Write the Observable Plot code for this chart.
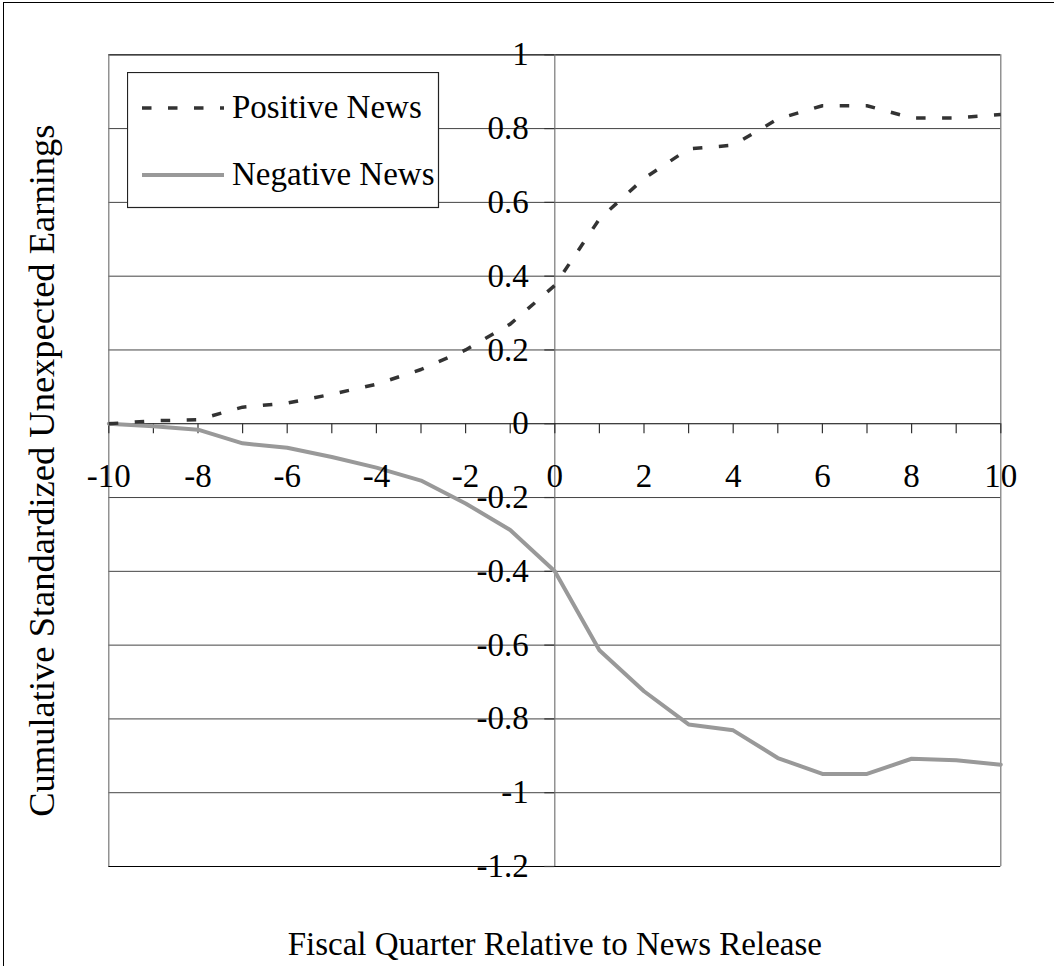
<!DOCTYPE html>
<html>
<head>
<meta charset="utf-8">
<script src="https://cdn.jsdelivr.net/npm/d3@7"></script>
<script src="https://cdn.jsdelivr.net/npm/@observablehq/plot@0.6"></script>
<style>
  html, body { margin: 0; padding: 0; background: #fff; }
  #wrap { position: relative; width: 1054px; height: 966px; overflow: hidden;
          font-family: "Liberation Serif", "Times New Roman", serif; }
  #wrap svg.chart { position: absolute; left: 0; top: 0; }
  #border { position: absolute; left: 3px; top: 2px; width: 1200px; height: 1200px;
            border-left: 1.5px solid #000; border-top: 1.5px solid #000; pointer-events: none; }
  #legend { position: absolute; left: 127px; top: 72px; }
</style>
</head>
<body>
<div id="wrap"></div>
<script>
// ---- data ----
const quarters = [-10, -9, -8, -7, -6, -5, -4, -3, -2, -1, 0, 1, 2, 3, 4, 5, 6, 7, 8, 9, 10];
const positiveNews = [0, 0.008, 0.011, 0.045, 0.056, 0.080, 0.107, 0.147, 0.200, 0.270, 0.375,
                      0.555, 0.665, 0.745, 0.755, 0.826, 0.862, 0.862, 0.829, 0.829, 0.838];
const negativeNews = [0, -0.007, -0.016, -0.053, -0.065, -0.090, -0.119, -0.154, -0.216, -0.288, -0.400,
                      -0.614, -0.725, -0.815, -0.831, -0.906, -0.949, -0.949, -0.908, -0.912, -0.924];
const seriesNames = ["Positive News", "Negative News"];
const xTickValues = [-10, -9, -8, -7, -6, -5, -4, -3, -2, -1, 0, 1, 2, 3, 4, 5, 6, 7, 8, 9, 10];
const xTickLabels = [-10, -8, -6, -4, -2, 0, 2, 4, 6, 8, 10];
const yTickValues = [1, 0.8, 0.6, 0.4, 0.2, 0, -0.2, -0.4, -0.6, -0.8, -1, -1.2];
const gridValues = [0.8, 0.6, 0.4, 0.2, -0.2, -0.4, -0.6, -0.8, -1];
const xTitle = "Fiscal Quarter Relative to News Release";
const yTitle = "Cumulative Standardized Unexpected Earnings";

// ---- layout ----
const W = 1054, H = 966;
const mL = 108.3, mR = 53.7, mT = 54.3, mB = 100;
const xDomain = [-10, 10], yDomain = [-1.2, 1];
const pxPerX = (W - mL - mR) / (xDomain[1] - xDomain[0]);
const pxPerY = (H - mT - mB) / (yDomain[1] - yDomain[0]);
const tickPx = 10;
const FONT = '"Liberation Serif", "Times New Roman", serif';

const rows = quarters.map((q, i) => ({q, pos: positiveNews[i], neg: negativeNews[i]}));

const chart = Plot.plot({
  width: W, height: H,
  marginLeft: mL, marginRight: mR, marginTop: mT, marginBottom: mB,
  x: {domain: xDomain, axis: null},
  y: {domain: yDomain, axis: null},
  style: {fontFamily: FONT, background: "transparent", overflow: "visible"},
  marks: [
    Plot.ruleY(gridValues, {y: d => d, x1: xDomain[0], x2: xDomain[1], stroke: "#444", strokeWidth: 1}),
    Plot.ruleY(yDomain, {y: d => d, x1: xDomain[0], x2: xDomain[1], stroke: "#000", strokeWidth: 1.2}),
    Plot.ruleX(xDomain, {x: d => d, y1: yDomain[0], y2: yDomain[1], stroke: "#777", strokeWidth: 1.2}),
    Plot.ruleX([0], {x: d => d, y1: yDomain[0], y2: yDomain[1], stroke: "#777", strokeWidth: 1.2}),
    Plot.ruleY([0], {y: d => d, x1: xDomain[0], x2: xDomain[1], stroke: "#000", strokeWidth: 1.2}),
    Plot.ruleX(xTickValues, {x: d => d, y1: 0, y2: -tickPx / pxPerY, stroke: "#333", strokeWidth: 1.2}),
    Plot.ruleY(yTickValues, {y: d => d, x1: -tickPx / pxPerX, x2: 0, stroke: "#333", strokeWidth: 1.2}),
    Plot.line(rows, {x: "q", y: "neg", stroke: "#999", strokeWidth: 4, strokeLinejoin: "miter"}),
    Plot.line(rows, {x: "q", y: "pos", stroke: "#333", strokeWidth: 3.5, strokeDasharray: "9.5,16.5", strokeLinecap: "butt"}),
    Plot.text(yTickValues, {x: 0, y: d => d, text: d => String(d), textAnchor: "end", dx: -26,
      fontSize: 33, fontFamily: FONT, fill: "#000"}),
    Plot.text(xTickLabels, {x: d => d, y: 0, text: d => String(d), dy: 53,
      fontSize: 33, fontFamily: FONT, fill: "#000"}),
    Plot.text([xTitle], {frameAnchor: "bottom", text: d => d, textAnchor: "middle", lineAnchor: "middle",
      dy: 78, fontSize: 33, fontFamily: FONT, fill: "#000"}),
    Plot.text([yTitle], {frameAnchor: "left", text: d => d, rotate: -90, textAnchor: "middle", lineAnchor: "middle",
      dx: 42 - mL, dy: 10, fontSize: 36.5, fontFamily: FONT, fill: "#000"})
  ]
});
chart.classList.add("chart");

const wrap = document.getElementById("wrap");
wrap.appendChild(chart);

const border = document.createElement("div");
border.id = "border";
wrap.appendChild(border);

// legend
const ns = "http://www.w3.org/2000/svg";
const lg = document.createElementNS(ns, "svg");
lg.setAttribute("id", "legend");
lg.setAttribute("width", 313);
lg.setAttribute("height", 137);
const rect = document.createElementNS(ns, "rect");
rect.setAttribute("x", 0.5); rect.setAttribute("y", 0.5);
rect.setAttribute("width", 311); rect.setAttribute("height", 135);
rect.setAttribute("fill", "#fff"); rect.setAttribute("stroke", "#222"); rect.setAttribute("stroke-width", 1.2);
lg.appendChild(rect);
const styles = [
  {stroke: "#333", width: 3.5, dash: "9.5,16.5"},
  {stroke: "#999", width: 4, dash: null}
];
const rowY = [36, 103];
seriesNames.forEach((name, i) => {
  const ln = document.createElementNS(ns, "line");
  ln.setAttribute("x1", 15); ln.setAttribute("x2", 97);
  ln.setAttribute("y1", rowY[i]); ln.setAttribute("y2", rowY[i]);
  ln.setAttribute("stroke", styles[i].stroke);
  ln.setAttribute("stroke-width", styles[i].width);
  if (styles[i].dash) ln.setAttribute("stroke-dasharray", styles[i].dash);
  lg.appendChild(ln);
  const t = document.createElementNS(ns, "text");
  t.setAttribute("x", 105);
  t.setAttribute("y", rowY[i] + 10);
  t.setAttribute("font-size", 33);
  t.setAttribute("font-family", FONT);
  t.setAttribute("fill", "#000");
  t.textContent = name;
  lg.appendChild(t);
});
wrap.appendChild(lg);
</script>
</body>
</html>
